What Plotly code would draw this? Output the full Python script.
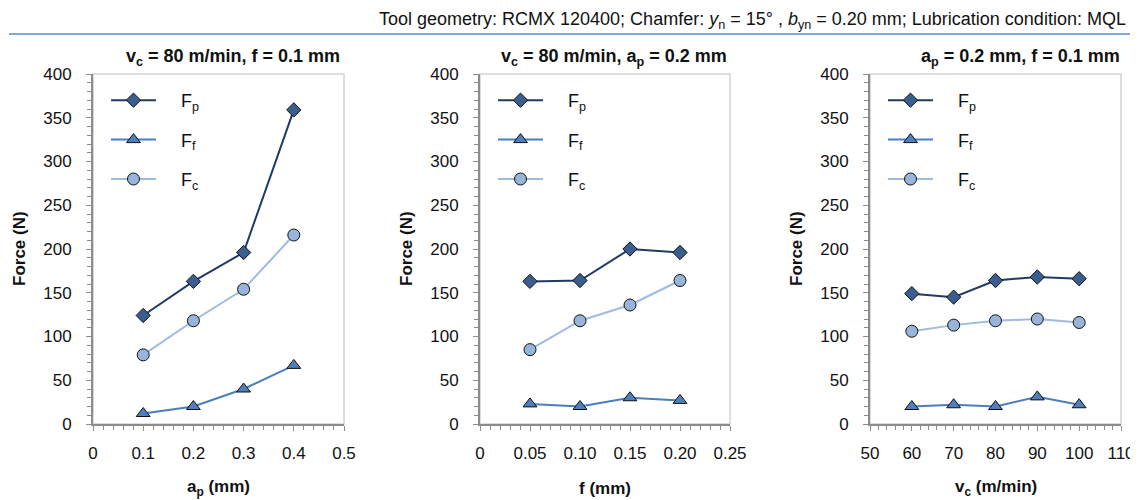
import plotly.graph_objects as go

# ---- data ----
ap = [0.1, 0.2, 0.3, 0.4]
ap_Fp = [124, 163, 196, 359]
ap_Ff = [12, 20, 40, 67]
ap_Fc = [79, 118, 154, 216]

f_vals = [0.05, 0.10, 0.15, 0.20]
f_Fp = [163, 164, 200, 196]
f_Ff = [23, 20, 30, 27]
f_Fc = [85, 118, 136, 164]

vc = [60, 70, 80, 90, 100]
vc_Fp = [149, 145, 164, 168, 166]
vc_Ff = [20, 22, 20, 31, 22]
vc_Fc = [106, 113, 118, 120, 116]

ap_ticks = [0, 0.1, 0.2, 0.3, 0.4, 0.5]
ap_ticktext = ["0", "0.1", "0.2", "0.3", "0.4", "0.5"]
f_ticks = [0, 0.05, 0.10, 0.15, 0.20, 0.25]
f_ticktext = ["0", "0.05", "0.10", "0.15", "0.20", "0.25"]
vc_ticks = [50, 60, 70, 80, 90, 100, 110]
vc_ticktext = ["50", "60", "70", "80", "90", "100", "110"]

series_names = ["F<sub>p</sub>", "F<sub>f</sub>", "F<sub>c</sub>"]
panel_titles = ["v<sub>c</sub> = 80 m/min, f = 0.1 mm",
                "v<sub>c</sub> = 80 m/min, a<sub>p</sub> = 0.2 mm",
                "a<sub>p</sub> = 0.2 mm, f = 0.1 mm"]
x_titles = ["a<sub>p</sub> (mm)", "f (mm)", "v<sub>c</sub> (m/min)"]
y_title = "Force (N)"
header = ("Tool geometry: RCMX 120400; Chamfer: <i>y</i><sub>n</sub> = 15° , "
          "<i>b</i><sub>yn</sub> = 0.20 mm; Lubrication condition: MQL")

panels = [
    (ap, [ap_Fp, ap_Ff, ap_Fc]),
    (f_vals, [f_Fp, f_Ff, f_Fc]),
    (vc, [vc_Fp, vc_Ff, vc_Fc]),
]
x_ranges = [[0, 0.5], [0, 0.25], [50, 110]]
x_tickvals = [ap_ticks, f_ticks, vc_ticks]
x_ticktexts = [ap_ticktext, f_ticktext, vc_ticktext]
x_minor = [0.02, 0.01, 2]

# ---- styles / geometry ----
W, H = 1138, 500
OFF = 8                      # page body margin of the browser
FW, FH = W - OFF, H - OFF    # figure size so the visible page matches the window


def px(X):
    return (X - OFF) / FW


def py(Y):
    return 1 - (Y - OFF) / FH


FONT = "Liberation Sans, Arial, Helvetica, sans-serif"
line_colors = ["#1F3A63", "#4A7EBF", "#9EBBE0"]
marker_colors = ["#3A5F8E", "#4E7FBE", "#97B5DA"]
symbols = ["diamond", "triangle-up", "circle"]
msizes = [11, 12, 12]

px_x = [(93, 344), (480, 730), (870, 1121)]
px_y = (74, 424)
ydom = [py(px_y[1]), py(px_y[0])]

fig = go.Figure()
legend_pos = [(106, 82), (493, 82), (883, 82)]
GAP = "&nbsp;&nbsp;&nbsp;&nbsp;"

for i, (xs, ys_list) in enumerate(panels):
    xa = "x" if i == 0 else f"x{i+1}"
    ya = "y" if i == 0 else f"y{i+1}"
    lg = "legend" if i == 0 else f"legend{i+1}"
    for j, ys in enumerate(ys_list):
        fig.add_trace(go.Scatter(
            x=xs, y=ys, mode="lines+markers", name=GAP + series_names[j],
            xaxis=xa, yaxis=ya, legend=lg, legendgroup=f"p{i}s{j}",
            line=dict(color=line_colors[j], width=2),
            marker=dict(symbol=symbols[j], size=msizes[j], color=marker_colors[j],
                        line=dict(color="#111111", width=1)),
        ))

layout = dict(
    width=FW, height=FH, margin=dict(l=0, r=0, t=0, b=0, autoexpand=False),
    paper_bgcolor="white", plot_bgcolor="white",
    font=dict(family=FONT, size=17, color="#111111"),
    showlegend=True,
)
annotations = []
shapes = []
for i in range(3):
    sx = "" if i == 0 else str(i + 1)
    xdom = [px(px_x[i][0]), px(px_x[i][1])]
    layout[f"xaxis{sx}"] = dict(
        domain=xdom, anchor=f"y{sx}", range=x_ranges[i], automargin=False,
        tickmode="array", tickvals=x_tickvals[i], ticktext=x_ticktexts[i],
        showgrid=False, zeroline=False, showline=True, linecolor="#8C8C8C", linewidth=2,
        ticks="outside", ticklen=5, tickcolor="#8C8C8C", tickwidth=1,
        ticklabelstandoff=8,
        minor=dict(dtick=x_minor[i], tick0=x_ranges[i][0], ticks="outside", ticklen=4,
                   tickcolor="#8C8C8C", tickwidth=1),
        tickfont=dict(size=17, family=FONT),
    )
    layout[f"yaxis{sx}"] = dict(
        domain=ydom, anchor=f"x{sx}", range=[0, 400], dtick=50, automargin=False,
        showgrid=False, zeroline=False, showline=True, linecolor="#8C8C8C", linewidth=2,
        ticks="outside", ticklen=5, tickcolor="#8C8C8C", tickwidth=1,
        ticklabelstandoff=11,
        minor=dict(dtick=10, ticks="outside", ticklen=4, tickcolor="#8C8C8C", tickwidth=1),
        tickfont=dict(size=17, family=FONT),
    )
    lg = "legend" if i == 0 else f"legend{i+1}"
    lx, ly = legend_pos[i]
    layout[lg] = dict(
        x=px(lx), y=py(ly), xanchor="left", yanchor="top",
        bgcolor="rgba(0,0,0,0)", font=dict(size=18, family=FONT),
        tracegroupgap=13, itemwidth=45,
    )
    shapes.append(dict(type="rect", xref=f"x{sx} domain", yref=f"y{sx} domain",
                       x0=0, x1=1, y0=0, y1=1, line=dict(color="#D4D4D4", width=1.5),
                       layer="below"))
    title_cx = [233, 614, 1020][i]
    annotations.append(dict(text=f"<b>{panel_titles[i]}</b>", x=px(title_cx), y=py(57),
                            xref="paper", yref="paper", xanchor="center", yanchor="middle",
                            showarrow=False, font=dict(size=18, family=FONT)))
    xc = (px_x[i][0] + px_x[i][1]) / 2
    annotations.append(dict(text=f"<b>{x_titles[i]}</b>", x=px(xc), y=py(488),
                            xref="paper", yref="paper", xanchor="center", yanchor="middle",
                            showarrow=False, font=dict(size=17, family=FONT)))
    ytx = [20, 407, 797][i]
    annotations.append(dict(text=f"<b>{y_title}</b>", x=px(ytx), y=py(249),
                            xref="paper", yref="paper", xanchor="center", yanchor="middle",
                            showarrow=False, textangle=-90, font=dict(size=17, family=FONT)))

annotations.append(dict(text=header, x=px(1128), y=py(20), xref="paper", yref="paper",
                        xanchor="right", yanchor="middle", showarrow=False,
                        font=dict(size=18, family=FONT)))
shapes.append(dict(type="line", xref="paper", yref="paper", x0=px(9), x1=1,
                   y0=py(34), y1=py(34), line=dict(color="#5B8BC9", width=1.5)))

layout["annotations"] = annotations
layout["shapes"] = shapes
fig.update_layout(**layout)
fig.write_html("out.html")
